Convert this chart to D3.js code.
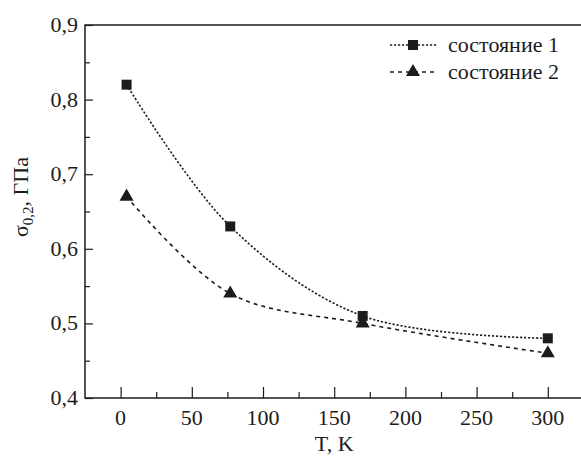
<!DOCTYPE html>
<html>
<head>
<meta charset="utf-8">
<script src="https://cdn.jsdelivr.net/npm/d3@7"></script>
</head>
<body style="margin:0">
<svg id="chart" width="581" height="457"></svg>
<script>
// data
var temps = [4.2, 77, 170, 300];
var state1 = [0.82, 0.63, 0.51, 0.48];
var state2 = [0.67, 0.54, 0.50, 0.46];
var seriesNames = ["состояние 1", "состояние 2"];
var xTicks = [0, 50, 100, 150, 200, 250, 300];
var yTicks = [0.4, 0.5, 0.6, 0.7, 0.8, 0.9];

const chartW = 581,
    plotL = 85,
    plotT = 25,
    plotB = 398,
    ink = "#1c1c1c";

var svg = d3.select("#chart");

var xScale = d3.scaleLinear().domain([-25, 325]).range([plotL, plotL + 350 * 1.424]);
var yScale = d3.scaleLinear().domain([0.4, 0.9]).range([plotB, plotT]);

var fmtY = function(d) { return d3.format(".1f")(d).replace(".", ","); };

function label(g, x, y, anchor, str) {
    return g.append("text")
        .attr("x", x)
        .attr("y", y)
        .attr("text-anchor", anchor)
        .attr("font-size", 22)
        .attr("fill", ink)
        .style("font-family", "Liberation Serif")
        .text(str);
}

// minor ticks
var xAxis = d3.axisTop(xScale)
    .tickValues(d3.range(0, 325, 25))
    .tickSize(7)
    .tickFormat("");
var yAxis = d3.axisRight(yScale)
    .tickValues(d3.range(0.45, 0.9, 0.1))
    .tickSize(5)
    .tickFormat("");

var gx = svg.append("g").attr("transform", "translate(0," + plotB + ")").call(xAxis);
var gy = svg.append("g").attr("transform", "translate(" + plotL + ",0)").call(yAxis);
[gx, gy].forEach(function(g) {
    g.select(".domain").remove();
    g.selectAll("line").attr("stroke", ink).attr("stroke-width", 1.2);
});
gx.selectAll(".tick line").attr("y2", function(d) { return d % 50 === 0 ? -11 : -6; });

// major y ticks
var gy2 = svg.append("g").attr("transform", "translate(" + plotL + ",0)")
    .call(d3.axisRight(yScale).tickValues(yTicks).tickSize(8).tickFormat(""));
gy2.select(".domain").remove();
gy2.selectAll("line").attr("stroke", ink).attr("stroke-width", 1.2);

// tick labels
var gxl = svg.append("g");
xTicks.forEach(function(d) { label(gxl, xScale(d), plotB + 27, "middle", d); });
var gyl = svg.append("g");
yTicks.forEach(function(d) { label(gyl, plotL - 7, yScale(d) + 7, "end", fmtY(d)); });

// frame
svg.append("path")
    .attr("d", "M" + chartW + "," + plotT + "H" + plotL + "V" + plotB + "H" + chartW)
    .attr("fill", "none")
    .attr("stroke", ink)
    .attr("stroke-width", 1.5);

// axis titles
label(svg, xScale(150), plotB + 53, "middle", "T, K");

var ylab = svg.append("text")
    .attr("transform", "translate(28,197) rotate(-90)")
    .attr("text-anchor", "middle")
    .attr("font-size", 22)
    .attr("fill", ink)
    .style("font-family", "Liberation Serif");
ylab.append("tspan").text("σ");
ylab.append("tspan").attr("dy", 5).attr("font-size", 15).text("0,2");
ylab.append("tspan").attr("dy", -5).text(", ГПа");

// lines
var line = d3.line()
    .x(function(d) { return xScale(d[0]); })
    .y(function(d) { return yScale(d[1]); })
    .curve(d3.curveCatmullRom.alpha(0.5));

var series = [
    { name: seriesNames[0], values: d3.zip(temps, state1), dash: "2.2,1.8", symbol: d3.symbolSquare, size: 100 },
    { name: seriesNames[1], values: d3.zip(temps, state2), dash: "4,4", symbol: d3.symbolTriangle, size: 85 }
];

series.forEach(function(s) {
    svg.append("path")
        .datum(s.values)
        .attr("d", line)
        .attr("fill", "none")
        .attr("stroke", ink)
        .attr("stroke-width", 1.6)
        .attr("stroke-dasharray", s.dash);

    svg.append("g").selectAll("path")
        .data(s.values)
        .enter()
        .append("path")
        .attr("transform", function(d) { return "translate(" + xScale(d[0]) + "," + yScale(d[1]) + ")"; })
        .attr("d", d3.symbol().type(s.symbol).size(s.size))
        .attr("fill", ink);
});

// legend
var legend = svg.append("g");
series.forEach(function(s, i) {
    var ly = 45 + i * 27;
    legend.append("line")
        .attr("x1", 390).attr("x2", 437)
        .attr("y1", ly).attr("y2", ly)
        .attr("stroke", ink)
        .attr("stroke-width", 1.6)
        .attr("stroke-dasharray", s.dash);
    legend.append("path")
        .attr("transform", "translate(413," + ly + ")")
        .attr("d", d3.symbol().type(s.symbol).size(s.size))
        .attr("fill", ink);
    label(legend, 448, ly + 7, "start", s.name);
});
</script>
</body>
</html>
